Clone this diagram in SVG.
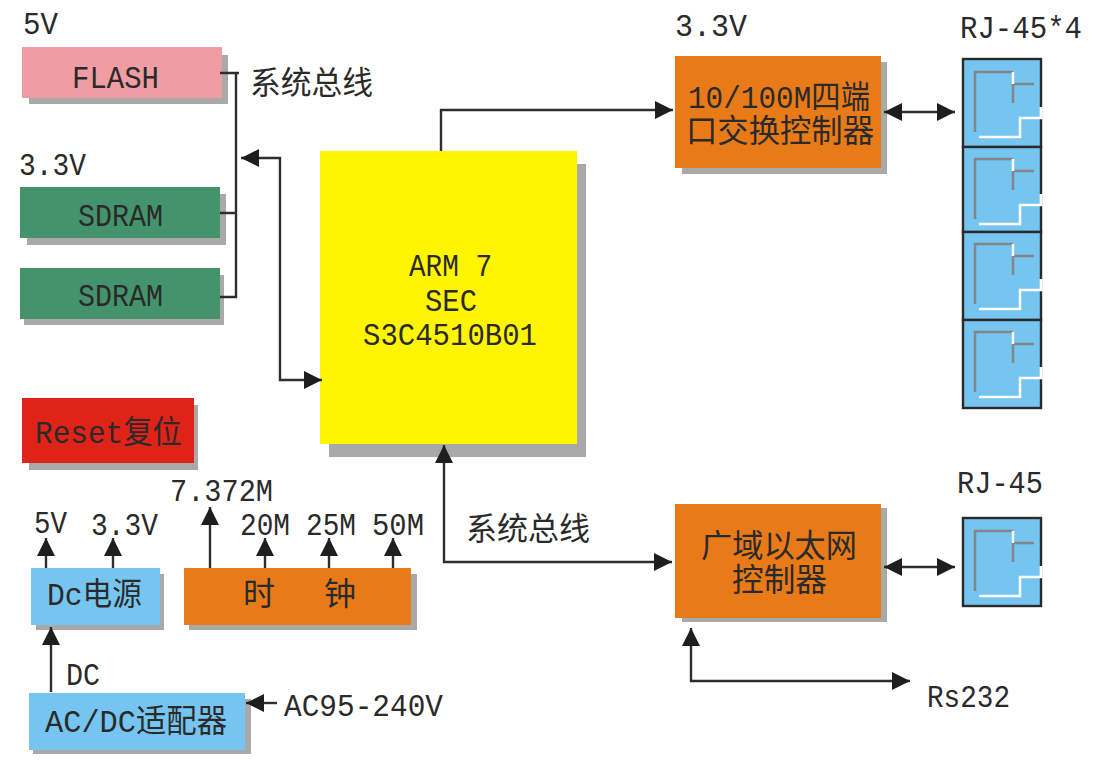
<svg xmlns="http://www.w3.org/2000/svg" width="1093" height="773" viewBox="0 0 1093 773">
<style>
text{font-family:"Liberation Mono","Noto Sans CJK SC",monospace;font-size:32px;fill:#2a2a2a;stroke:none}
.s{fill:#a9a9a9}
.pink{fill:#ef9ca3}.green{fill:#45936c}.red{fill:#df2318}.orange{fill:#e87a17}.blue{fill:#75c5f0}.yellow{fill:#fff500}
.c{fill:none;stroke:#2e2e2e;stroke-width:2.4}
.ge{fill:none;stroke:#858585;stroke-width:2.5}
.wh{fill:none;stroke:#fff;stroke-width:2.5}
.bd{fill:#75c5f0;stroke:#2a2a2a;stroke-width:2.4}
</style>
<defs>
<marker id="ah" markerUnits="userSpaceOnUse" markerWidth="20" markerHeight="20" refX="18" refY="9.5" orient="auto-start-reverse"><path d="M0 0.5L18 9.5L0 18.5Z" fill="#1e1e1e"/></marker>
<g id="jack">
<path class="ge" d="M975 132V72H1013M1013 84H1034M1013 84V103"/>
<path class="wh" d="M1013 72V84M979 137H1020V118H1042"/>
<path d="M1041 107V119" stroke="#fff" stroke-width="3"/>
</g>
</defs>
<rect width="1093" height="773" fill="#fff"/>
<g id="flash"><rect class="s" x="29" y="55" width="199" height="49"/><rect class="pink" x="22" y="47" width="200" height="51"/><text x="72" y="88" textLength="87" lengthAdjust="spacingAndGlyphs">FLASH</text></g>
<g id="sdram1"><rect class="s" x="27" y="194" width="199" height="51"/><rect class="green" x="20" y="187" width="200" height="51"/><text x="78" y="226" textLength="85" lengthAdjust="spacingAndGlyphs">SDRAM</text></g>
<g id="sdram2"><rect class="s" x="24" y="275" width="200" height="50"/><rect class="green" x="20" y="268" width="200" height="51"/><text x="78" y="306" textLength="85" lengthAdjust="spacingAndGlyphs">SDRAM</text></g>
<g id="cpu"><rect class="s" x="329" y="164" width="257" height="293"/><rect class="yellow" x="320" y="151" width="257" height="293"/>
<text x="409" y="276" textLength="83" lengthAdjust="spacingAndGlyphs">ARM 7</text><text x="425" y="311" textLength="52" lengthAdjust="spacingAndGlyphs">SEC</text><text x="363" y="345" textLength="174" lengthAdjust="spacingAndGlyphs">S3C4510B01</text></g>
<g id="switch"><rect class="s" x="682" y="62" width="205" height="112"/><rect class="orange" x="675" y="56" width="206" height="112"/>
<text x="688" y="108" textLength="182" lengthAdjust="spacingAndGlyphs">10/100M四端</text><text x="686" y="142" textLength="188" lengthAdjust="spacingAndGlyphs">口交换控制器</text></g>
<g id="wan"><rect class="s" x="682" y="508" width="205" height="114"/><rect class="orange" x="675" y="504" width="206" height="114"/>
<text x="701" y="557" textLength="156" lengthAdjust="spacingAndGlyphs">广域以太网</text><text x="732" y="591" textLength="95" lengthAdjust="spacingAndGlyphs">控制器</text></g>
<g id="rj45x4">
<rect class="bd" x="963" y="59" width="78" height="88"/><rect class="bd" x="963" y="147" width="78" height="85"/><rect class="bd" x="963" y="232" width="78" height="88"/><rect class="bd" x="963" y="320" width="78" height="88"/>
<use href="#jack"/><use href="#jack" y="87"/><use href="#jack" y="172"/><use href="#jack" y="260"/>
</g>
<g id="rj45"><rect class="bd" x="963" y="518" width="78" height="88"/><use href="#jack" y="459"/></g>
<g id="reset"><rect class="s" x="29" y="405" width="169" height="65"/><rect class="red" x="22" y="398" width="172" height="65"/><text x="35" y="443" textLength="147" lengthAdjust="spacingAndGlyphs">Reset复位</text></g>
<g id="dc"><rect class="s" x="36" y="574" width="128" height="56"/><rect class="blue" x="31" y="568" width="129" height="57"/><text x="47" y="605" textLength="95" lengthAdjust="spacingAndGlyphs">Dc电源</text></g>
<g id="clock"><rect class="s" x="189" y="574" width="228" height="56"/><rect class="orange" x="184" y="568" width="227" height="57"/><text y="605" x="243 324">时钟</text></g>
<g id="adapter"><rect class="s" x="33" y="699" width="218" height="55"/><rect class="blue" x="29" y="693" width="216" height="57"/><text x="45" y="732" textLength="182" lengthAdjust="spacingAndGlyphs">AC/DC适配器</text></g>
<g id="labels">
<text x="23" y="34" textLength="35" lengthAdjust="spacingAndGlyphs">5V</text>
<text x="19" y="175" textLength="67" lengthAdjust="spacingAndGlyphs">3.3V</text>
<text x="250" y="94" textLength="123" lengthAdjust="spacingAndGlyphs">系统总线</text>
<text x="675" y="36" textLength="72" lengthAdjust="spacingAndGlyphs">3.3V</text>
<text x="960" y="38" textLength="122" lengthAdjust="spacingAndGlyphs">RJ-45*4</text>
<text x="170" y="501" textLength="103" lengthAdjust="spacingAndGlyphs">7.372M</text>
<text x="34" y="533" textLength="33" lengthAdjust="spacingAndGlyphs">5V</text>
<text x="91" y="535" textLength="67" lengthAdjust="spacingAndGlyphs">3.3V</text>
<text x="240" y="535" textLength="50" lengthAdjust="spacingAndGlyphs">20M</text>
<text x="306" y="535" textLength="50" lengthAdjust="spacingAndGlyphs">25M</text>
<text x="372" y="535" textLength="52" lengthAdjust="spacingAndGlyphs">50M</text>
<text x="466" y="540" textLength="124" lengthAdjust="spacingAndGlyphs">系统总线</text>
<text x="66" y="685" textLength="34" lengthAdjust="spacingAndGlyphs">DC</text>
<text x="284" y="716" textLength="159" lengthAdjust="spacingAndGlyphs">AC95-240V</text>
<text x="957" y="493" textLength="86" lengthAdjust="spacingAndGlyphs">RJ-45</text>
<text x="927" y="707" textLength="83" lengthAdjust="spacingAndGlyphs">Rs232</text>
</g>
<g id="connectors">
<path class="c" d="M220 73H239M236 73V297H220M220 213H236"/>
<path class="c" marker-start="url(#ah)" marker-end="url(#ah)" d="M241 158H280V380H322"/>
<path class="c" marker-end="url(#ah)" d="M441 151V110H673"/>
<path class="c" marker-start="url(#ah)" marker-end="url(#ah)" d="M884 112H955"/>
<path class="c" marker-start="url(#ah)" marker-end="url(#ah)" d="M444 445V562H672"/>
<path class="c" marker-start="url(#ah)" marker-end="url(#ah)" d="M884 567H955"/>
<path class="c" marker-start="url(#ah)" marker-end="url(#ah)" d="M691 628V681H910"/>
<path class="c" marker-end="url(#ah)" d="M46 568V538"/>
<path class="c" marker-end="url(#ah)" d="M113 568V538"/>
<path class="c" marker-end="url(#ah)" d="M210 568V507"/>
<path class="c" marker-end="url(#ah)" d="M265 568V538"/>
<path class="c" marker-end="url(#ah)" d="M329 568V538"/>
<path class="c" marker-end="url(#ah)" d="M393 568V538"/>
<path class="c" marker-end="url(#ah)" d="M51 692V627"/>
<path class="c" marker-end="url(#ah)" d="M277 703H246"/>
</g>
</svg>
